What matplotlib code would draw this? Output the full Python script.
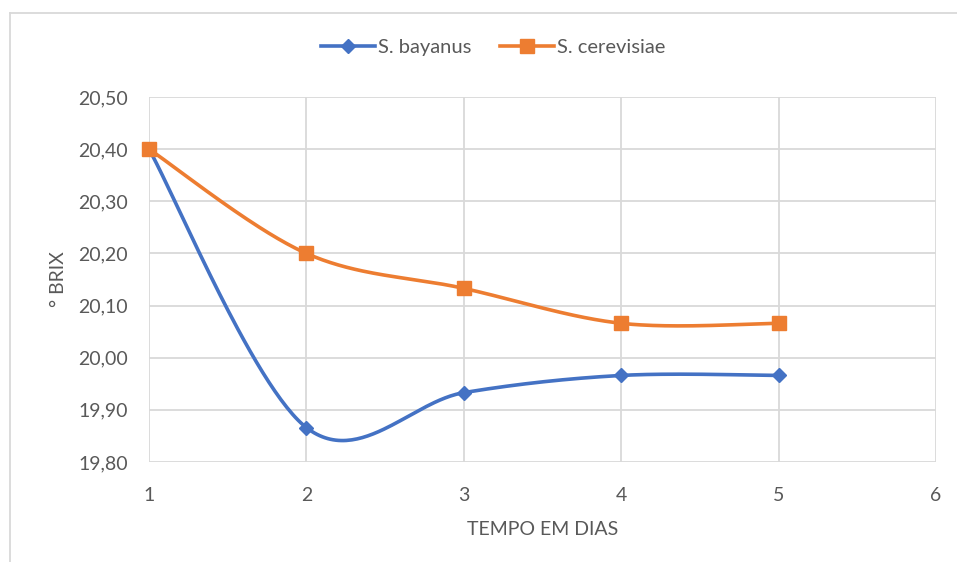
import numpy as np
import matplotlib
matplotlib.use("Agg")
import matplotlib.pyplot as plt
from matplotlib.lines import Line2D

days = [1, 2, 3, 4, 5]
bayanus = [20.40, 19.866, 19.933, 19.966, 19.966]
cerevisiae = [20.40, 20.20, 20.133, 20.066, 20.066]
series_names = ["S. bayanus", "S. cerevisiae"]
yticks = [19.80, 19.90, 20.00, 20.10, 20.20, 20.30, 20.40, 20.50]
xticks = [1, 2, 3, 4, 5, 6]

BLUE = "#4472C4"
ORANGE = "#ED7D31"
GRID = "#D9D9D9"
TXT = "#595959"

plt.rcParams['font.family'] = ['Lato', 'DejaVu Sans']


def smooth(xs, ys, n=60):
    P = np.column_stack([xs, ys]).astype(float)
    pts = []
    m = len(P)
    for i in range(m - 1):
        p0 = P[i - 1] if i > 0 else P[i]
        p1 = P[i]
        p2 = P[i + 1]
        p3 = P[i + 2] if i + 2 < m else P[i + 1]
        c1 = p1 + (p2 - p0) / 6.0
        c2 = p2 - (p3 - p1) / 6.0
        t = np.linspace(0, 1, n)[:, None]
        seg = (1 - t) ** 3 * p1 + 3 * (1 - t) ** 2 * t * c1 + 3 * (1 - t) * t ** 2 * c2 + t ** 3 * p2
        pts.append(seg if i == 0 else seg[1:])
    pts = np.vstack(pts)
    return pts[:, 0], pts[:, 1]


W, H = 957, 562
fig = plt.figure(figsize=(W / 100, H / 100), dpi=100)
ax = fig.add_axes([149 / W, 1 - 462 / H, (936 - 149) / W, (462 - 97) / H])

for xv, yv, c, mk, ms in [(days, bayanus, BLUE, 'D', 7), (days, cerevisiae, ORANGE, 's', 10)]:
    sx, sy = smooth(xv, yv)
    ax.plot(sx, sy, color=c, lw=2.6, solid_capstyle='round', zorder=3, clip_on=False)
    ax.plot(xv, yv, linestyle='none', marker=mk, markersize=ms, color=c, zorder=4, clip_on=False)

ax.set_xlim(1, 6)
ax.set_ylim(19.80, 20.50)
ax.set_xticks(xticks)
ax.set_yticks(yticks)
ax.set_xticklabels([str(v) for v in xticks])
ax.set_yticklabels([f"{v:.2f}".replace('.', ',') for v in yticks])
ax.grid(True, color=GRID, lw=1.3)
ax.set_axisbelow(True)
for s in ax.spines.values():
    s.set_visible(False)
ax.tick_params(length=0, colors=TXT, labelsize=14)
ax.tick_params(axis='x', pad=18)
ax.tick_params(axis='y', pad=15)

ax.set_xlabel("TEMPO EM DIAS", color=TXT, fontsize=14, labelpad=12)
ax.set_ylabel("° BRIX", color=TXT, fontsize=14, labelpad=8)

handles = [Line2D([], [], color=BLUE, lw=2.6, marker='D', markersize=7),
           Line2D([], [], color=ORANGE, lw=2.6, marker='s', markersize=10)]
fig.legend(handles, series_names, loc='center', bbox_to_anchor=(493 / W, 1 - 47 / H),
           ncol=2, frameon=False, fontsize=14.5, labelcolor=TXT, handlelength=2.7,
           handletextpad=0.15, columnspacing=1.4)

# chart border (left and top visible)
fig.add_artist(Line2D([10 / W, 10 / W], [0, 1 - 13 / H], transform=fig.transFigure, color=GRID, lw=1.3))
fig.add_artist(Line2D([10 / W, 1], [1 - 13 / H, 1 - 13 / H], transform=fig.transFigure, color=GRID, lw=1.3))

fig.savefig("out.png", dpi=100)
